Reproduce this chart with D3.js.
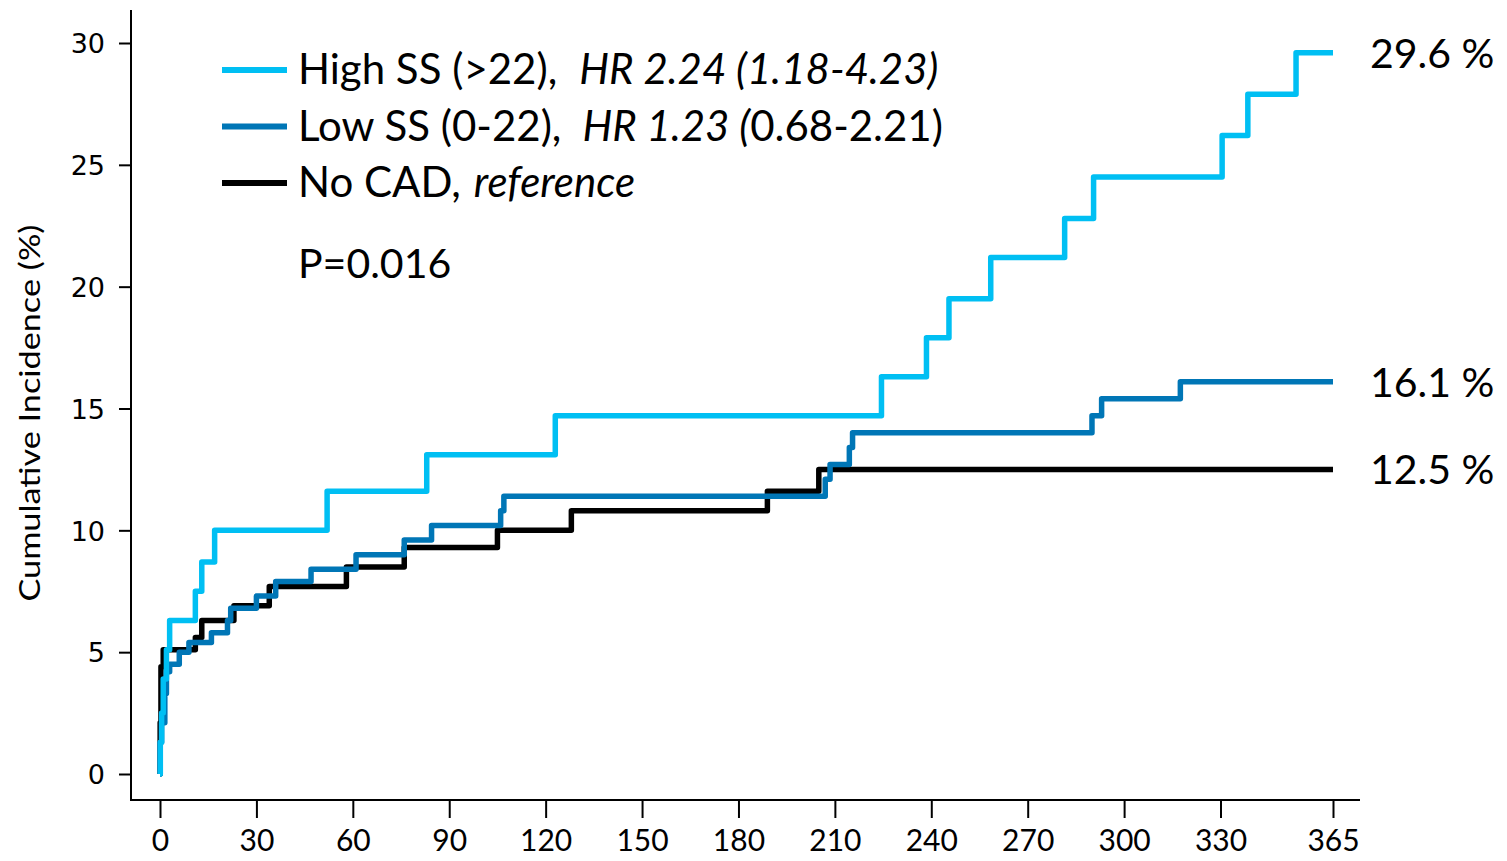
<!DOCTYPE html>
<html>
<head>
<meta charset="utf-8">
<script src="https://cdn.jsdelivr.net/npm/d3@7"></script>
<style>
  html, body { margin: 0; padding: 0; background: #fff; }
  svg { display: block; }
</style>
</head>
<body>
<svg id="chart" width="1507" height="861"></svg>
<script>
// Cumulative incidence (%) by day of follow-up, Kaplan–Meier style step data
const highSS = [
  [0, 0], [0.1, 1.3], [0.5, 2.5], [1, 3.9], [2, 5.1], [3, 6.3], [11, 7.5], [13, 8.7],
  [17, 10.0], [52, 11.6], [83, 13.1], [123, 14.7], [224.5, 16.3], [238.5, 17.9],
  [245.5, 19.5], [258.5, 21.2], [281.5, 22.8], [290.5, 24.5], [330.5, 26.2],
  [338.5, 27.9], [353.5, 29.6], [365, 29.6]
];
const lowSS = [
  [0, 0], [0.05, 1.3], [0.5, 2.1], [1.5, 3.3], [2, 4.2], [3, 4.5], [6, 5.0], [9, 5.4],
  [16, 5.8], [21, 6.3], [22, 6.8], [30, 7.3], [36, 7.9], [47, 8.4], [61, 9.0],
  [76, 9.6], [84.5, 10.2], [106, 10.8], [107, 11.4], [207, 12.1], [208.5, 12.7],
  [214.5, 13.4], [215.5, 14.0], [290, 14.7], [293, 15.4], [317.5, 16.1], [365, 16.1]
];
const noCAD = [
  [0, 0], [0.05, 2.1], [0.3, 4.4], [1, 5.1], [11, 5.6], [13, 6.3], [23, 6.9],
  [34, 7.7], [58, 8.5], [76, 9.3], [105, 10.0], [128, 10.8], [189, 11.6],
  [205, 12.5], [365, 12.5]
];
const finalLabels = ["29.6 %", "16.1 %", "12.5 %"];
const finalValues = [29.6, 16.1, 12.5];
const xTicks = [0, 30, 60, 90, 120, 150, 180, 210, 240, 270, 300, 330, 365];
const yTicks = [0, 5, 10, 15, 20, 25, 30];

const colors = { high: "#00bff3", low: "#0076b6", none: "#000000" };

const svg = d3.select("#chart");
const x = d3.scaleLinear().domain([0, 365]).range([160, 1333]);
const y = d3.scaleLinear().domain([0, 30]).range([774, 43]);

const axisX = 131, axisY = 800;

// Axis lines (offset from the data origin)
svg.append("line").attr("x1", axisX).attr("x2", axisX).attr("y1", 10).attr("y2", axisY + 1)
  .attr("stroke", "#000").attr("stroke-width", 2);
svg.append("line").attr("x1", axisX - 1).attr("x2", 1360).attr("y1", axisY).attr("y2", axisY)
  .attr("stroke", "#000").attr("stroke-width", 2);

// Y axis ticks
const gy = svg.append("g").attr("transform", `translate(${axisX},0)`)
  .call(d3.axisLeft(y).tickValues(yTicks).tickSize(12).tickPadding(14));
gy.select(".domain").remove();
gy.selectAll(".tick line").attr("stroke", "#000").attr("stroke-width", 2);
gy.selectAll(".tick text").attr("font-family", "'DejaVu Sans', sans-serif")
  .attr("font-size", 27).attr("fill", "#000").attr("dy", "0.36em");

// X axis ticks
const gx = svg.append("g").attr("transform", `translate(0,${axisY})`)
  .call(d3.axisBottom(x).tickValues(xTicks).tickSize(18).tickPadding(12));
gx.select(".domain").remove();
gx.selectAll(".tick line").attr("stroke", "#000").attr("stroke-width", 2);
gx.selectAll(".tick text").attr("font-family", "Lato, sans-serif")
  .attr("font-size", 30).attr("fill", "#000");

// Y axis title
svg.append("text")
  .attr("transform", "translate(40,413) rotate(-90)")
  .attr("text-anchor", "middle")
  .attr("font-family", "Lato, sans-serif")
  .attr("font-size", 29)
  .attr("textLength", 377).attr("lengthAdjust", "spacingAndGlyphs")
  .text("Cumulative Incidence (%)");

// Step curves
const line = d3.line().x(d => x(d[0])).y(d => y(d[1])).curve(d3.curveStepAfter);
const series = [
  { data: noCAD, color: colors.none },
  { data: lowSS, color: colors.low },
  { data: highSS, color: colors.high }
];
svg.append("g").selectAll("path").data(series).join("path")
  .attr("d", d => line(d.data))
  .attr("fill", "none")
  .attr("stroke", d => d.color)
  .attr("stroke-width", 5.5)
  .attr("stroke-linejoin", "round")
  .attr("stroke-linecap", "butt");

// Values at one year
svg.append("g").selectAll("text").data(finalValues).join("text")
  .attr("x", 1370)
  .attr("y", v => y(v) + 15)
  .attr("font-family", "Lato, sans-serif")
  .attr("font-size", 41)
  .attr("fill", "#000")
  .text((v, i) => finalLabels[i]);

// Legend
const legend = [
  { color: colors.high, parts: [["High SS (>22),", false, 0], ["HR 2.24 (1.18-4.23)", true, 22]] },
  { color: colors.low, parts: [["Low SS (0-22),", false, 0], ["HR 1.23 (", true, 21], ["0.68-2.21)", false, 0]] },
  { color: colors.none, parts: [["No CAD,", false, 0], ["reference", true, 13]] }
];
const lg = svg.append("g");
legend.forEach((item, i) => {
  const cy = 70 + i * 56.5;
  lg.append("line").attr("x1", 222).attr("x2", 287).attr("y1", cy).attr("y2", cy)
    .attr("stroke", item.color).attr("stroke-width", 6);
  const t = lg.append("text").attr("x", 298).attr("y", cy + 14)
    .attr("font-family", "Lato, sans-serif").attr("font-size", 42).attr("fill", "#000");
  item.parts.forEach(([s, it, gap]) => {
    t.append("tspan").attr("dx", gap).attr("font-style", it ? "italic" : "normal").text(s);
  });
});
lg.append("text").attr("x", 298).attr("y", 278)
  .attr("font-family", "Lato, sans-serif").attr("font-size", 41).attr("fill", "#000")
  .text("P=0.016");
</script>
</body>
</html>
